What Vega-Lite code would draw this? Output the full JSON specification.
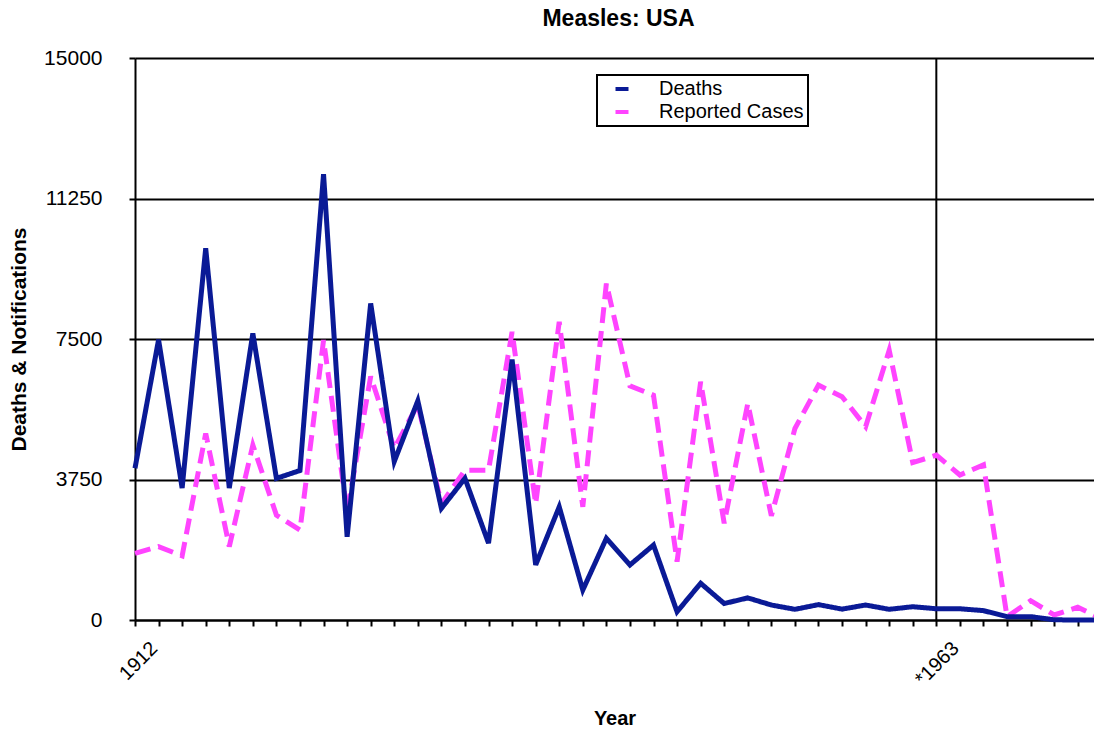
{
  "$schema": "https://vega.github.io/schema/vega-lite/v6.json",
  "width": 959,
  "height": 562,
  "autosize": {"type": "none"},
  "padding": {"left": 135, "top": 58, "right": 0, "bottom": 111},
  "background": "white",
  "title": {"text": "Measles: USA", "fontSize": 23, "fontWeight": "bold", "font": "Liberation Sans", "color": "black", "anchor": "middle", "dx": 4, "offset": 16},
  "config": {"view": {"stroke": null}, "font": "Liberation Sans", "legend": {"strokeWidth": 2}},
  "datasets": {
    "series": [
      {"i": 0, "series": "Deaths", "value": 4050},
      {"i": 1, "series": "Deaths", "value": 7480},
      {"i": 2, "series": "Deaths", "value": 3520},
      {"i": 3, "series": "Deaths", "value": 9920},
      {"i": 4, "series": "Deaths", "value": 3520},
      {"i": 5, "series": "Deaths", "value": 7650},
      {"i": 6, "series": "Deaths", "value": 3780},
      {"i": 7, "series": "Deaths", "value": 3990},
      {"i": 8, "series": "Deaths", "value": 11900},
      {"i": 9, "series": "Deaths", "value": 2220},
      {"i": 10, "series": "Deaths", "value": 8450},
      {"i": 11, "series": "Deaths", "value": 4230},
      {"i": 12, "series": "Deaths", "value": 5850},
      {"i": 13, "series": "Deaths", "value": 2980},
      {"i": 14, "series": "Deaths", "value": 3780},
      {"i": 15, "series": "Deaths", "value": 2050},
      {"i": 16, "series": "Deaths", "value": 6950},
      {"i": 17, "series": "Deaths", "value": 1470},
      {"i": 18, "series": "Deaths", "value": 3020},
      {"i": 19, "series": "Deaths", "value": 800},
      {"i": 20, "series": "Deaths", "value": 2180},
      {"i": 21, "series": "Deaths", "value": 1470},
      {"i": 22, "series": "Deaths", "value": 2000},
      {"i": 23, "series": "Deaths", "value": 220},
      {"i": 24, "series": "Deaths", "value": 980},
      {"i": 25, "series": "Deaths", "value": 440},
      {"i": 26, "series": "Deaths", "value": 590},
      {"i": 27, "series": "Deaths", "value": 400},
      {"i": 28, "series": "Deaths", "value": 285},
      {"i": 29, "series": "Deaths", "value": 410},
      {"i": 30, "series": "Deaths", "value": 290},
      {"i": 31, "series": "Deaths", "value": 400},
      {"i": 32, "series": "Deaths", "value": 285},
      {"i": 33, "series": "Deaths", "value": 355},
      {"i": 34, "series": "Deaths", "value": 300},
      {"i": 35, "series": "Deaths", "value": 300},
      {"i": 36, "series": "Deaths", "value": 250},
      {"i": 37, "series": "Deaths", "value": 90},
      {"i": 38, "series": "Deaths", "value": 90},
      {"i": 39, "series": "Deaths", "value": 5},
      {"i": 40, "series": "Deaths", "value": 0},
      {"i": 41, "series": "Deaths", "value": 0},
      {"i": 0, "series": "Reported Cases", "value": 1780},
      {"i": 1, "series": "Reported Cases", "value": 1960},
      {"i": 2, "series": "Reported Cases", "value": 1710},
      {"i": 3, "series": "Reported Cases", "value": 4980},
      {"i": 4, "series": "Reported Cases", "value": 1960},
      {"i": 5, "series": "Reported Cases", "value": 4670},
      {"i": 6, "series": "Reported Cases", "value": 2800},
      {"i": 7, "series": "Reported Cases", "value": 2400},
      {"i": 8, "series": "Reported Cases", "value": 7470},
      {"i": 9, "series": "Reported Cases", "value": 2880},
      {"i": 10, "series": "Reported Cases", "value": 6500},
      {"i": 11, "series": "Reported Cases", "value": 4580},
      {"i": 12, "series": "Reported Cases", "value": 5750},
      {"i": 13, "series": "Reported Cases", "value": 3100},
      {"i": 14, "series": "Reported Cases", "value": 4000},
      {"i": 15, "series": "Reported Cases", "value": 4000},
      {"i": 16, "series": "Reported Cases", "value": 7690},
      {"i": 17, "series": "Reported Cases", "value": 3100},
      {"i": 18, "series": "Reported Cases", "value": 7960},
      {"i": 19, "series": "Reported Cases", "value": 3020},
      {"i": 20, "series": "Reported Cases", "value": 8980},
      {"i": 21, "series": "Reported Cases", "value": 6250},
      {"i": 22, "series": "Reported Cases", "value": 6000},
      {"i": 23, "series": "Reported Cases", "value": 1560},
      {"i": 24, "series": "Reported Cases", "value": 6360},
      {"i": 25, "series": "Reported Cases", "value": 2580},
      {"i": 26, "series": "Reported Cases", "value": 5780},
      {"i": 27, "series": "Reported Cases", "value": 2780},
      {"i": 28, "series": "Reported Cases", "value": 5110},
      {"i": 29, "series": "Reported Cases", "value": 6270},
      {"i": 30, "series": "Reported Cases", "value": 5960},
      {"i": 31, "series": "Reported Cases", "value": 5160},
      {"i": 32, "series": "Reported Cases", "value": 7200},
      {"i": 33, "series": "Reported Cases", "value": 4200},
      {"i": 34, "series": "Reported Cases", "value": 4400},
      {"i": 35, "series": "Reported Cases", "value": 3870},
      {"i": 36, "series": "Reported Cases", "value": 4140},
      {"i": 37, "series": "Reported Cases", "value": 90},
      {"i": 38, "series": "Reported Cases", "value": 515},
      {"i": 39, "series": "Reported Cases", "value": 135},
      {"i": 40, "series": "Reported Cases", "value": 340},
      {"i": 41, "series": "Reported Cases", "value": 40}
    ],
    "marker": [{"i": 34, "label": "*1963"}]
  },
  "encoding": {
    "x": {
      "field": "i",
      "type": "quantitative",
      "scale": {"domain": [0, 40.69], "nice": false, "zero": false},
      "axis": {
        "title": "Year",
        "values": [0,1,2,3,4,5,6,7,8,9,10,11,12,13,14,15,16,17,18,19,20,21,22,23,24,25,26,27,28,29,30,31,32,33,34,35,36,37,38,39,40],
        "labelExpr": "datum.value === 0 ? '1912' : (datum.value === 34 ? '*1963' : '')",
        "labelAngle": -45,
        "labelAlign": "right",
        "labelBaseline": "middle",
        "labelOffset": 19,
        "labelPadding": 19,
        "labelFontSize": 20,
        "labelFont": "Liberation Sans",
        "labelColor": "black",
        "labelFlush": false,
        "labelOverlap": false,
        "grid": false,
        "domainColor": "black",
        "domainWidth": 2,
        "tickColor": "black",
        "tickWidth": 2,
        "tickSize": 6,
        "titleFontSize": 20,
        "titleFont": "Liberation Sans",
        "titleFontWeight": "bold",
        "titleColor": "black",
        "titlePadding": 19
      }
    }
  },
  "layer": [
    {
      "data": {"name": "marker"},
      "mark": {"type": "rule", "color": "black", "strokeWidth": 2},
      "encoding": {}
    },
    {
      "data": {"name": "series"},
      "transform": [{"filter": "datum.series === 'Reported Cases'"}],
      "mark": {"type": "line", "strokeWidth": 5, "strokeJoin": "miter", "strokeCap": "butt"},
      "encoding": {
        "y": {
          "field": "value",
          "type": "quantitative",
          "scale": {"domain": [0, 15000], "nice": false},
          "axis": {
            "title": "Deaths & Notifications",
            "values": [0, 3750, 7500, 11250, 15000],
            "format": "d",
            "grid": true,
            "gridColor": "black",
            "gridWidth": 2,
            "gridOpacity": 1,
            "domainColor": "black",
            "domainWidth": 2,
            "tickColor": "black",
            "tickWidth": 2,
            "tickSize": 6,
            "labelFontSize": 21,
            "labelFont": "Liberation Sans",
            "labelColor": "black",
            "labelPadding": 27,
            "labelFlush": false,
            "labelOverlap": false,
            "titleFontSize": 21,
            "titleFont": "Liberation Sans",
            "titleFontWeight": "bold",
            "titleColor": "black",
            "titlePadding": 14
          }
        },
        "color": {
          "field": "series",
          "type": "nominal",
          "scale": {"domain": ["Deaths", "Reported Cases"], "range": ["#0A1A96", "#FF44FF"]},
          "legend": {
            "title": null,
            "orient": "none",
            "legendX": 462,
            "legendY": 17,
            "direction": "vertical",
            "strokeColor": "black",
            "fillColor": "white",
            "padding": 4,
            "symbolType": "stroke",
            "symbolStrokeWidth": 4,
            "symbolSize": 169,
            "symbolOffset": 11,
            "labelOffset": 27,
            "labelFontSize": 20,
            "labelFont": "Liberation Sans",
            "labelColor": "black",
            "rowPadding": 3
          }
        },
        "strokeDash": {
          "field": "series",
          "type": "nominal",
          "scale": {"domain": ["Deaths", "Reported Cases"], "range": [[1, 0], [16, 8]]},
          "legend": null
        }
      }
    },
    {
      "data": {"name": "series"},
      "transform": [{"filter": "datum.series === 'Deaths'"}],
      "mark": {"type": "line", "strokeWidth": 5, "strokeJoin": "miter", "strokeCap": "butt"},
      "encoding": {
        "y": {"field": "value", "type": "quantitative"},
        "color": {"field": "series", "type": "nominal"},
        "strokeDash": {"field": "series", "type": "nominal"}
      }
    }
  ]
}
